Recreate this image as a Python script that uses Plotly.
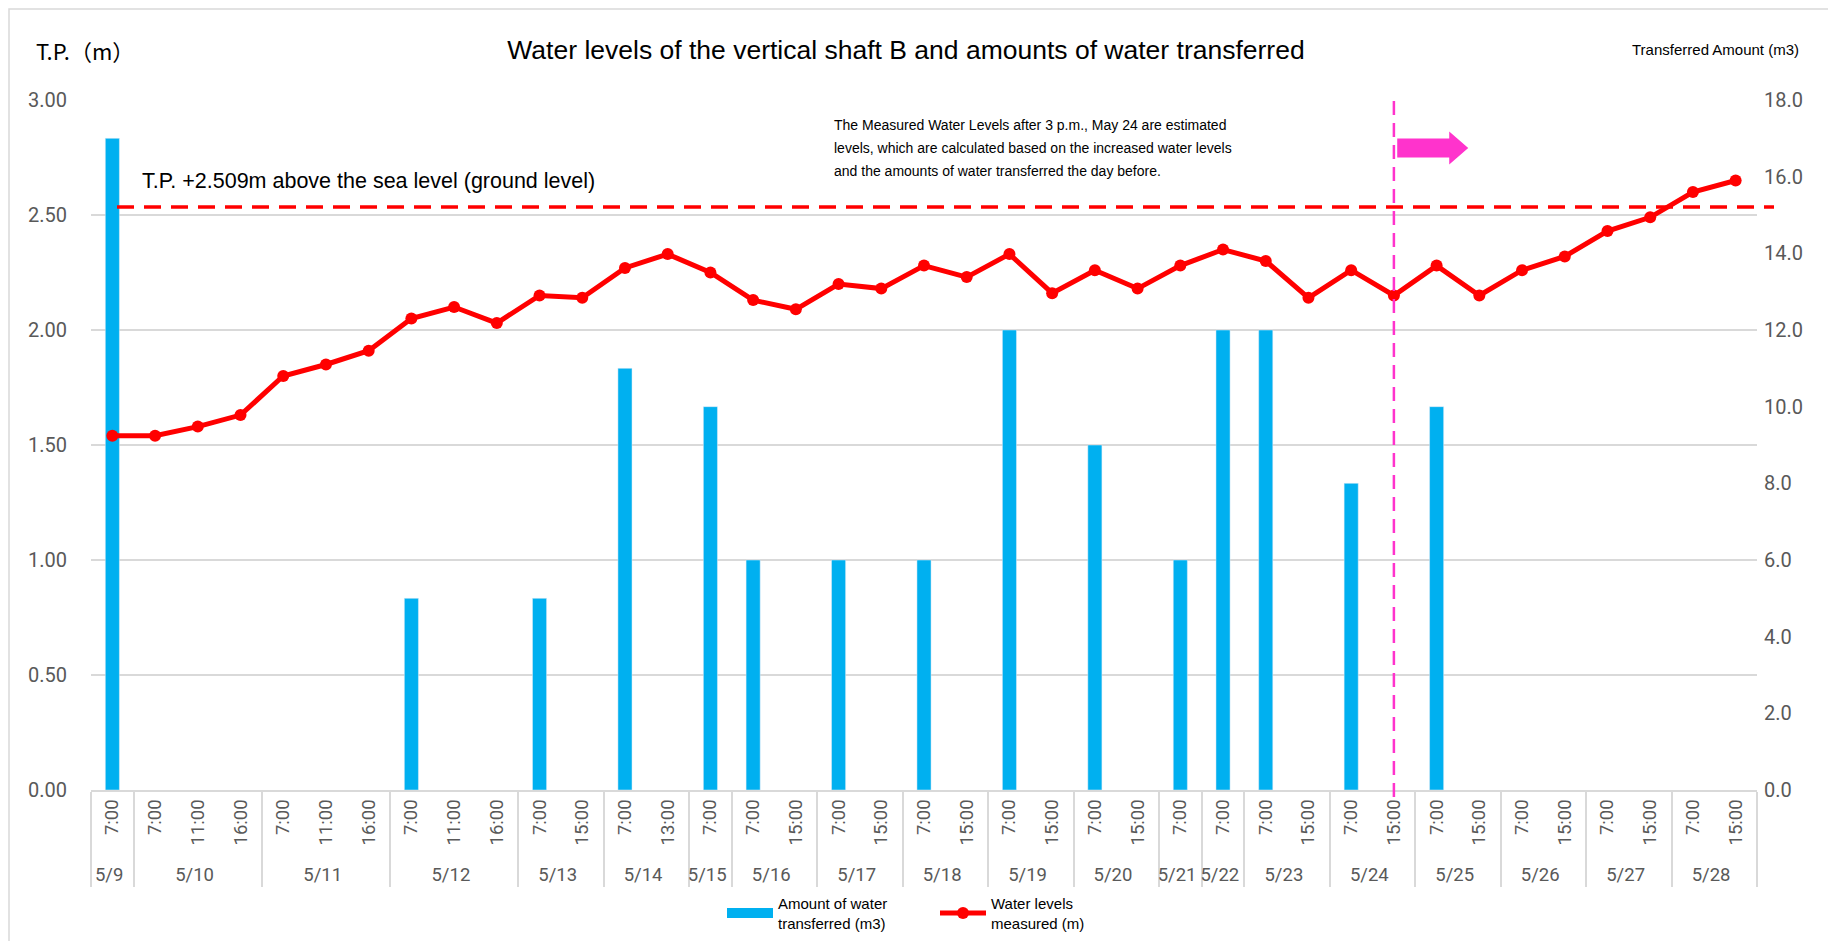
import plotly.graph_objects as go

# x categories: date (outer) / time (inner)
dates = ['5/9',
         '5/10', '5/10', '5/10',
         '5/11', '5/11', '5/11',
         '5/12', '5/12', '5/12',
         '5/13', '5/13',
         '5/14', '5/14',
         '5/15',
         '5/16', '5/16',
         '5/17', '5/17',
         '5/18', '5/18',
         '5/19', '5/19',
         '5/20', '5/20',
         '5/21',
         '5/22',
         '5/23', '5/23',
         '5/24', '5/24',
         '5/25', '5/25',
         '5/26', '5/26',
         '5/27', '5/27',
         '5/28', '5/28']
times = ['7:00',
         '7:00', '11:00', '16:00',
         '7:00', '11:00', '16:00',
         '7:00', '11:00', '16:00',
         '7:00', '15:00',
         '7:00', '13:00',
         '7:00',
         '7:00', '15:00',
         '7:00', '15:00',
         '7:00', '15:00',
         '7:00', '15:00',
         '7:00', '15:00',
         '7:00',
         '7:00',
         '7:00', '15:00',
         '7:00', '15:00',
         '7:00', '15:00',
         '7:00', '15:00',
         '7:00', '15:00',
         '7:00', '15:00']

# water level measured (m, T.P.)
water_level = [1.54,
               1.54, 1.58, 1.63,
               1.80, 1.85, 1.91,
               2.05, 2.10, 2.03,
               2.15, 2.14,
               2.27, 2.33,
               2.25,
               2.13, 2.09,
               2.20, 2.18,
               2.28, 2.23,
               2.33, 2.16,
               2.26, 2.18,
               2.28,
               2.35,
               2.30, 2.14,
               2.26, 2.15,
               2.28, 2.15,
               2.26, 2.32,
               2.43, 2.49,
               2.60, 2.65]

# amount of water transferred (m3)
transferred = [17,
               None, None, None,
               None, None, None,
               5, None, None,
               5, None,
               11, None,
               10,
               6, None,
               6, None,
               6, None,
               12, None,
               9, None,
               6,
               12,
               12, None,
               8, None,
               10, None,
               None, None,
               None, None,
               None, None]

ground_level = 2.535
estimate_start = 30  # index of 5/24 15:00

note_lines = ['The Measured Water Levels after 3 p.m., May 24 are estimated',
              'levels, which are calculated based on the increased water levels',
              'and the amounts of water transferred the day before.']

# page is offset by the 8px body margin, so work in page pixels and convert
OFF = 8
W, H = 1836 - OFF, 941 - OFF
PL, PR, PT, PB = 91, 1757, 100, 790          # plot area in page pixels
L, T = PL - OFF, PT - OFF
R, B = W - (PR - OFF), H - (PB - OFF)
pw, ph = PR - PL, PB - PT


def px_x(x):
    return (x - PL) / pw


def px_y(y):
    return (PB - y) / ph


n = len(times)

fig = go.Figure()

fig.add_trace(go.Bar(
    x=[dates, times], y=transferred, name='Amount of water<br>transferred (m3)',
    marker=dict(color='#00B0F0'), yaxis='y', showlegend=False))

# legend proxy for the bars (wide rectangle swatch)
fig.add_trace(go.Scatter(
    x=[None], y=[None], mode='lines', name='Amount of water<br>transferred (m3)',
    line=dict(color='#00B0F0', width=14), yaxis='y'))

fig.add_trace(go.Scatter(
    x=[dates, times], y=water_level, mode='lines+markers', name='Water levels<br>measured (m)',
    line=dict(color='#FF0000', width=5), marker=dict(color='#FF0000', size=12), yaxis='y2'))

# ground level line
fig.add_shape(type='line', xref='paper', yref='y2', x0=px_x(117), x1=px_x(1774),
              y0=ground_level, y1=ground_level,
              line=dict(color='#FF0000', width=3.5, dash='17px,10px'))

# estimation boundary
xb = (estimate_start + 0.5) / n
fig.add_shape(type='line', xref='paper', yref='paper', x0=xb, x1=xb, y0=-0.01, y1=1,
              line=dict(color='#FF33CC', width=2.5, dash='14px,8px'))

# pink arrow
x0 = xb + 0.002
x1 = x0 + 71 / pw
xh = x1 - 19 / pw
yc = px_y(148)
bh, hh = 9.5 / ph, 16.5 / ph
fig.add_shape(type='path', xref='paper', yref='paper',
              path=f'M {x0} {yc - bh} L {xh} {yc - bh} L {xh} {yc - hh} L {x1} {yc} '
                   f'L {xh} {yc + hh} L {xh} {yc + bh} L {x0} {yc + bh} Z',
              fillcolor='#FF33CC', line=dict(width=0))

# outer border
fig.add_shape(type='rect', xref='paper', yref='paper', x0=px_x(9), x1=px_x(1860),
              y0=px_y(960), y1=px_y(9), line=dict(color='#D9D9D9', width=1.5), layer='below')

txt = dict(family='Liberation Sans, Arial', color='#000000')

fig.add_annotation(text='T.P. +2.509m above the sea level (ground level)', xref='paper', yref='paper',
                   x=px_x(140), y=px_y(181), xanchor='left', yanchor='middle', showarrow=False,
                   font=dict(size=21.5, **txt))
for i, line in enumerate(note_lines):
    fig.add_annotation(text=line, xref='paper', yref='paper', x=px_x(832), y=px_y(125 + 23 * i),
                       xanchor='left', yanchor='middle', showarrow=False, font=dict(size=14, **txt))
fig.add_annotation(text='T.P.（m）', xref='paper', yref='paper', x=px_x(34), y=px_y(50),
                   xanchor='left', yanchor='middle', showarrow=False,
                   font=dict(size=22, family='Noto Sans CJK JP', color='#000000'))
fig.add_annotation(text='Transferred Amount (m3)', xref='paper', yref='paper', x=px_x(1801), y=px_y(50),
                   xanchor='right', yanchor='middle', showarrow=False, font=dict(size=15, **txt))

ytick_font = dict(family='Roboto', size=20, color='#595959')
xtick_font = dict(family='Roboto', size=18.5, color='#595959')

fig.update_layout(
    width=W, height=H,
    margin=dict(l=L, r=R, t=T, b=B),
    paper_bgcolor='white', plot_bgcolor='white',
    title=dict(text='Water levels of the vertical shaft B and amounts of water transferred',
               x=(906 - OFF) / W, xanchor='center', y=1 - (50 - OFF) / H, yanchor='middle',
               font=dict(size=26.5, family='Liberation Sans, Arial', color='#000000')),
    bargap=0.67,
    showlegend=True,
    legend=dict(orientation='h', xref='container', yref='container',
                x=(722 - OFF) / W, xanchor='left', y=1 - (913 - OFF) / H, yanchor='middle',
                font=dict(size=15, **txt), traceorder='normal', itemwidth=46, entrywidth=152),
    xaxis=dict(type='multicategory', range=[-0.5, n - 0.5], tickangle=-90, tickfont=xtick_font,
               showline=True, linecolor='#D9D9D9', linewidth=2, showdividers=True,
               dividercolor='#D9D9D9', dividerwidth=2, ticks='', showgrid=False, automargin=False),
    yaxis=dict(side='right', range=[0, 18], dtick=2, tickformat='.1f', showgrid=False,
               tickfont=ytick_font, zeroline=False, ticks='', automargin=False, ticklabelstandoff=6),
    yaxis2=dict(side='left', overlaying='y', range=[0, 3], dtick=0.5, tickformat='.2f',
                showgrid=True, gridcolor='#D9D9D9', gridwidth=1.5, zeroline=False,
                tickfont=ytick_font, ticks='', automargin=False, ticklabelstandoff=23),
)

fig.write_html('out.html')
